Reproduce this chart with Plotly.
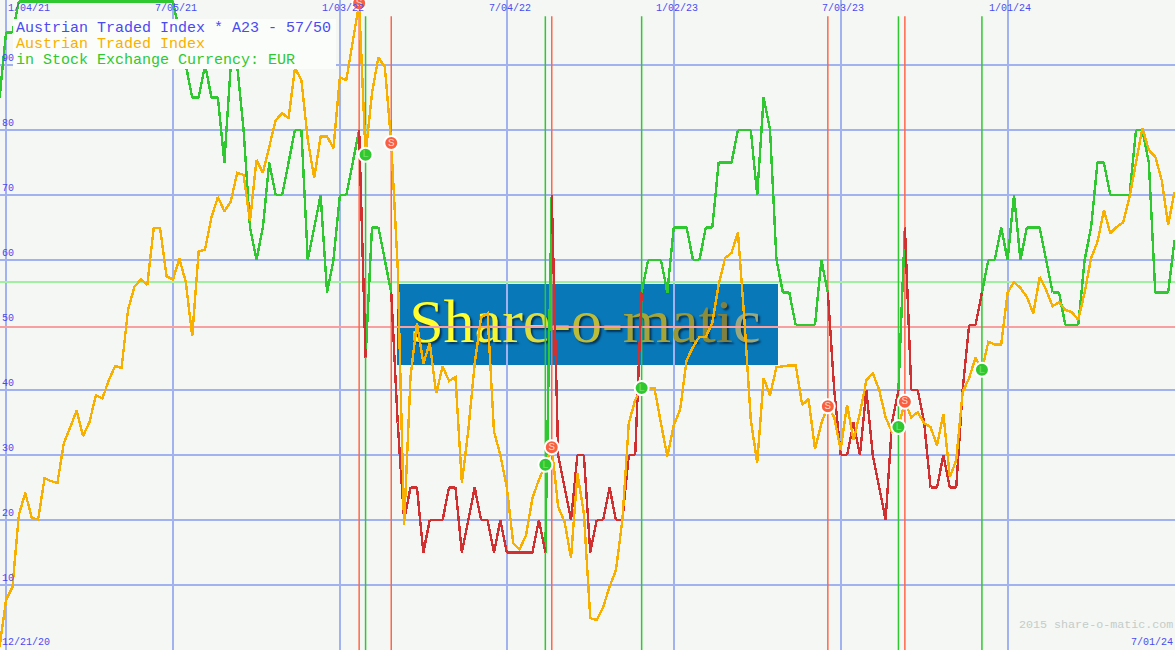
import pandas as pd
import plotly.graph_objects as go

weeks = pd.date_range("2020-12-28", periods=184, freq="7D")

price = [0.5,7.7,9.7,20.8,24.2,20.3,20.1,26.4,26,25.7,31.8,34.3,36.8,32.9,35.1,39.2,38.7,41.5,43.7,43.4,
52.3,55.9,57,56.2,64.9,64.9,57.5,57,60.2,56.6,48.3,61.3,61.6,66.6,69.7,67.5,69,73.4,73.1,66,
75.4,73.4,77.4,81.5,82.6,81.8,89.5,87.7,78.5,72.6,79,79,77.2,88.1,87.7,93.4,99.5,76.2,85.7,91.2,
89.7,78,59,19.2,42,50.3,44.1,47.2,39.5,43.6,41.4,42,25.7,33.8,44.1,51.2,51.8,33.6,30,25,
16.4,15.5,17.7,23.4,26.2,28.5,31.2,22,19.7,14.2,27.2,21,4.9,4.6,6.6,9.7,12.3,20,34.9,38.5,
40.3,40.2,40.3,34.9,29.8,34.6,37,44.6,46.6,48.2,48.2,50.3,56.2,60.3,61.1,64.3,50.8,35.4,28.8,41.8,
39.2,43.5,43.7,43.8,43.8,37.7,38.6,30.9,34.9,37.5,35.8,30.8,37.7,32.3,36.4,41.5,42.6,40,35.8,33.5,
34.3,38.2,35.8,36.6,34.9,34.3,31.5,36.3,26.6,29.2,39.7,41.8,45,43.1,47.4,47,47,55,56.6,55.7,
54.3,51.8,57.4,55.4,52.9,53.5,52.3,52,50.8,55,60.3,62.8,67.7,64.1,65.1,65.8,69.7,74.9,80.3,76.9,
75.9,72.3,65.4,70.5]

oscillator = [85,95,95,99.8,99.8,99.8,99.8,99.8,99.8,99.8,99.8,99.8,99.8,99.8,99.8,99.8,99.8,99.8,99.8,99.8,
99.8,99.8,99.8,99.8,99.8,99.8,99.8,99.8,95,90,85,85,90,85,85,75,90,90,80,65,
60,65,75,70,70,75,80,80,60,65,70,55,60,70,70,75,80,45,65,65,
60,55,35,20,25,25,15,20,20,20,25,25,15,20,25,20,20,15,20,15,
15,15,15,15,20,15,70,30,25,20,30,30,15,20,20,25,20,20,30,30,
55,60,60,60,55,65,65,65,60,60,65,65,75,75,75,80,80,80,70,85,
80,60,55,55,50,50,50,50,60,55,40,30,30,35,30,40,30,25,20,35,
40,65,40,40,35,25,25,30,25,25,40,50,50,55,60,60,65,60,70,60,
65,65,65,60,55,55,50,50,50,60,65,75,75,70,70,70,70,80,80,75,
55,55,55,63]

buy_weeks = [57, 85, 100, 140, 153]
sell_weeks = [56, 61, 86, 129, 141]
grid_dates = ["2021-01-04", "2021-07-05", "2022-01-03", "2022-07-04", "2023-01-02", "2023-07-03", "2024-01-01"]
grid_labels = ["1/04/21", "7/05/21", "1/03/22", "7/04/22", "1/02/23", "7/03/23", "1/01/24"]
y_labels = [10, 20, 30, 40, 50, 60, 70, 80, 90]
y_grid = [10, 20, 30, 40, 60, 70, 80, 90]
upper_level = 56.6
lower_level = 49.7
title_lines = ["Austrian Traded Index * A23 - 57/50", "Austrian Traded Index", "in Stock Exchange Currency: EUR"]

BG = "#f4f7f4"
GRID = "#a2b2f0"
BLUE = "#4a4af0"
ORANGE = "#f8b000"
GREEN = "#30c830"
RED = "#d03030"
VRED = "#ff6648"
MONO = "Liberation Mono"

events = sorted([(i, "buy") for i in buy_weeks] + [(i, "sell") for i in sell_weeks])
state = ["buy"] * len(weeks)
cur = "buy"
for k in range(len(weeks)):
    for i, s in events:
        if i == k:
            cur = s
    state[k] = cur

def segment(which):
    xs, ys = [], []
    for k in range(len(weeks) - 1):
        if state[k] == which:
            xs += [weeks[k], weeks[k + 1], None]
            ys += [oscillator[k], oscillator[k + 1], None]
    return xs, ys

fig = go.Figure()

# Logo wordmark (sits under every line)
word = "Share-o-matic"
ramp = ["#ffff30", "#ffff30", "#f4f430", "#eaea38", "#dcdc40", "#cccc40", "#bcbc38", "#b0b038",
        "#a4a438", "#989838", "#8c8c38", "#808040", "#9aa880"]
styled = "".join(f'<span style="color:{c}">{ch}</span>' for ch, c in zip(word, ramp))
fig.add_trace(go.Scatter(x=["2022-09-27"], y=[49.7], mode="text", text=[styled],
                         textfont=dict(family="Liberation Serif", size=62, color="#ffff30",
                                       shadow="2px 2px 2px #04365c"),
                         textposition="middle center", hoverinfo="skip"))

for level, col in [(upper_level, "#a0f0a0"), (lower_level, "#f8a0a0")]:
    fig.add_trace(go.Scatter(x=[weeks[0], weeks[-1]], y=[level, level], mode="lines",
                             line=dict(color=col, width=2), hoverinfo="skip", cliponaxis=False))

for idx, col in [(buy_weeks, GREEN), (sell_weeks, VRED)]:
    for i in idx:
        fig.add_trace(go.Scatter(x=[weeks[i], weeks[i]], y=[0, 97.5], mode="lines",
                                 line=dict(color=col, width=1.5), hoverinfo="skip"))

gx, gy = segment("buy")
fig.add_trace(go.Scatter(x=gx, y=gy, mode="lines", line=dict(color=GREEN, width=2.4), cliponaxis=False))
rx, ry = segment("sell")
fig.add_trace(go.Scatter(x=rx, y=ry, mode="lines", line=dict(color=RED, width=2.4)))
fig.add_trace(go.Scatter(x=weeks, y=price, mode="lines", line=dict(color=ORANGE, width=2.4)))

fig.add_trace(go.Scatter(x=[weeks[i] for i in buy_weeks], y=[price[i] for i in buy_weeks], mode="markers+text",
                         text=["L"] * len(buy_weeks), textposition="middle center",
                         textfont=dict(family=MONO, size=11, color="#70e070"),
                         marker=dict(size=14, color=GREEN, line=dict(color="#ffffff", width=2))))
fig.add_trace(go.Scatter(x=[weeks[i] for i in sell_weeks], y=[price[i] for i in sell_weeks], mode="markers+text",
                         text=["S"] * len(sell_weeks), textposition="middle center",
                         textfont=dict(family=MONO, size=11, color="#ffd8c8"),
                         marker=dict(size=14, color="#fa6040", line=dict(color="#ffffff", width=2))))

x0 = pd.Timestamp("2020-12-28 10:00")
x1 = x0 + pd.Timedelta(days=1281.1)

annotations = []
for d, lab in zip(grid_dates, grid_labels):
    if lab == "1/04/21":
        annotations.append(dict(x=6 / 1175, xref="paper", y=1 - 9 / 650, yref="paper", text=lab, showarrow=False,
                                xanchor="left", yanchor="middle", font=dict(family=MONO, size=10, color=BLUE)))
    else:
        annotations.append(dict(x=pd.Timestamp(d) + pd.Timedelta(days=3), xref="x", y=1 - 9 / 650, yref="paper",
                                text=lab, showarrow=False, xanchor="center", yanchor="middle",
                                font=dict(family=MONO, size=10, color=BLUE)))
for v in y_labels:
    annotations.append(dict(x=0, xref="paper", y=v, yref="y", yshift=7, text=str(v), showarrow=False,
                            xanchor="left", yanchor="middle", font=dict(family=MONO, size=10, color=BLUE)))
for lab, px, anchor, yy in [("12/21/20", 0, "left", 642), ("7/01/24", 1175, "right", 642)]:
    annotations.append(dict(x=px / 1175, xref="paper", y=1 - yy / 650, yref="paper", text=lab, showarrow=False,
                            xanchor=anchor, yanchor="middle", font=dict(family=MONO, size=10, color=BLUE)))
annotations.append(dict(x=1, xref="paper", y=1 - 625 / 650, yref="paper", text="2015 share-o-matic.com",
                        showarrow=False, xanchor="right", yanchor="middle",
                        font=dict(family=MONO, size=11.7, color="#c4ccc8")))
for line, col, yy in zip(title_lines, [BLUE, ORANGE, GREEN], [28, 44, 60]):
    annotations.append(dict(x=14 / 1175, xref="paper", y=1 - yy / 650, yref="paper", text=line, showarrow=False,
                            xanchor="left", yanchor="middle", font=dict(family=MONO, size=15, color=col)))

shapes = [
    dict(type="rect", xref="paper", yref="paper", x0=397 / 1175, x1=778 / 1175, y0=1 - 365 / 650, y1=1 - 284 / 650,
         fillcolor="#0878b8", line=dict(width=0), layer="below"),
    dict(type="rect", xref="paper", yref="paper", x0=13 / 1175, x1=336 / 1175, y0=1 - 69 / 650, y1=1 - 19 / 650,
         fillcolor="#fbfdfb", line=dict(width=0), layer="above"),
]

fig.update_layout(
    width=1175, height=650, margin=dict(l=0, r=0, t=0, b=0), showlegend=False,
    paper_bgcolor=BG, plot_bgcolor=BG, shapes=shapes, annotations=annotations, hovermode=False,
    xaxis=dict(range=[x0, x1], type="date", tickvals=grid_dates, showticklabels=False, ticks="",
               showgrid=True, gridcolor=GRID, gridwidth=2, zeroline=False, showline=False),
    yaxis=dict(range=[0, 100], tickvals=y_grid, showticklabels=False, ticks="",
               showgrid=True, gridcolor=GRID, gridwidth=2, zeroline=False, showline=False),
)
post = """
document.body.style.margin='0';document.body.style.overflow='hidden';
var st=document.createElement('style');
st.textContent='.gridlayer path,.scatterlayer .lines path{shape-rendering:crispEdges}'
 +'.scatterlayer .trace:nth-child(n+4):nth-child(-n+13) .lines path{shape-rendering:auto}';
document.head.appendChild(st);
"""
fig.write_html("out.html", config={"displayModeBar": False}, post_script=post)
